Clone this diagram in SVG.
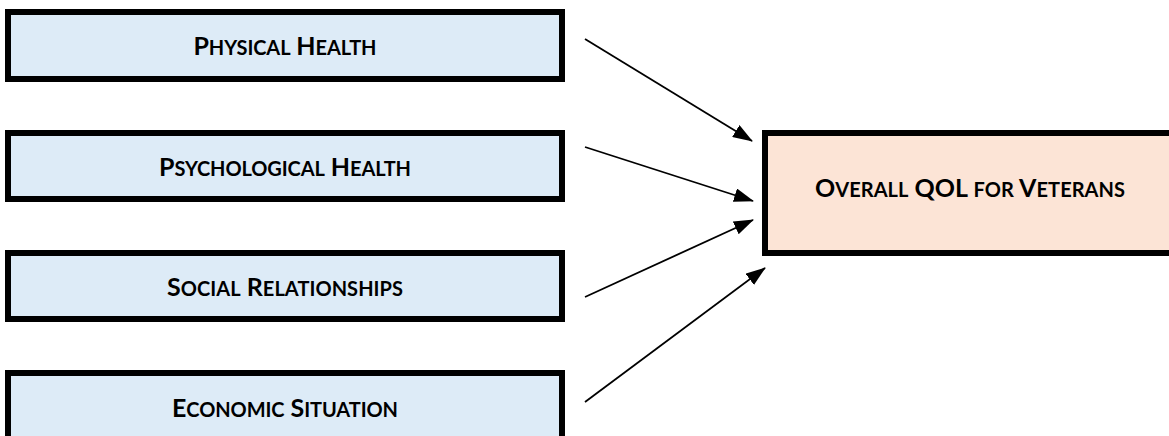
<svg xmlns="http://www.w3.org/2000/svg" width="1169" height="436" viewBox="0 0 1169 436">
  <style>
    .src rect { fill: #DDEBF7; stroke: #000; stroke-width: 6; }
    .dst rect { fill: #FCE4D6; stroke: #000; stroke-width: 6; }
    text { font-family: Lato, "Open Sans", "Liberation Sans", sans-serif; font-weight: bold; font-size: 25px; fill: #000; text-anchor: middle; }
    .sc { font-size: 20px; }
    .conn line { stroke: #000; stroke-width: 1.8; marker-end: url(#arr); }
  </style>
  <defs>
    <marker id="arr" markerUnits="userSpaceOnUse" markerWidth="20" markerHeight="14" refX="19" refY="7" orient="auto">
      <path d="M0,0 L20,7 L0,14 z" fill="#000"/>
    </marker>
  </defs>
  <rect width="1169" height="436" fill="#fff"/>
  <g id="physical-health" class="src">
    <rect x="8" y="12" width="554" height="67"/>
    <text x="285" y="55" textLength="183">P<tspan class="sc">HYSICAL</tspan> H<tspan class="sc">EALTH</tspan></text>
  </g>
  <g id="psychological-health" class="src">
    <rect x="8" y="133" width="554" height="66"/>
    <text x="285" y="176" textLength="252">P<tspan class="sc">SYCHOLOGICAL</tspan> H<tspan class="sc">EALTH</tspan></text>
  </g>
  <g id="social-relationships" class="src">
    <rect x="8" y="253" width="554" height="66"/>
    <text x="285" y="296" textLength="236">S<tspan class="sc">OCIAL</tspan> R<tspan class="sc">ELATIONSHIPS</tspan></text>
  </g>
  <g id="economic-situation" class="src">
    <rect x="8" y="373" width="554" height="67"/>
    <text x="285" y="417" textLength="226">E<tspan class="sc">CONOMIC</tspan> S<tspan class="sc">ITUATION</tspan></text>
  </g>
  <g id="overall-qol" class="dst">
    <rect x="765" y="133" width="412" height="120"/>
    <text x="970" y="197" textLength="310">O<tspan class="sc">VERALL</tspan> QOL <tspan class="sc">FOR</tspan> V<tspan class="sc">ETERANS</tspan></text>
  </g>
  <g id="connectors" class="conn">
    <line x1="585" y1="39" x2="752" y2="141"/>
    <line x1="585" y1="147" x2="753" y2="201"/>
    <line x1="585" y1="297" x2="753" y2="220"/>
    <line x1="585" y1="402" x2="765" y2="268"/>
  </g>
</svg>
